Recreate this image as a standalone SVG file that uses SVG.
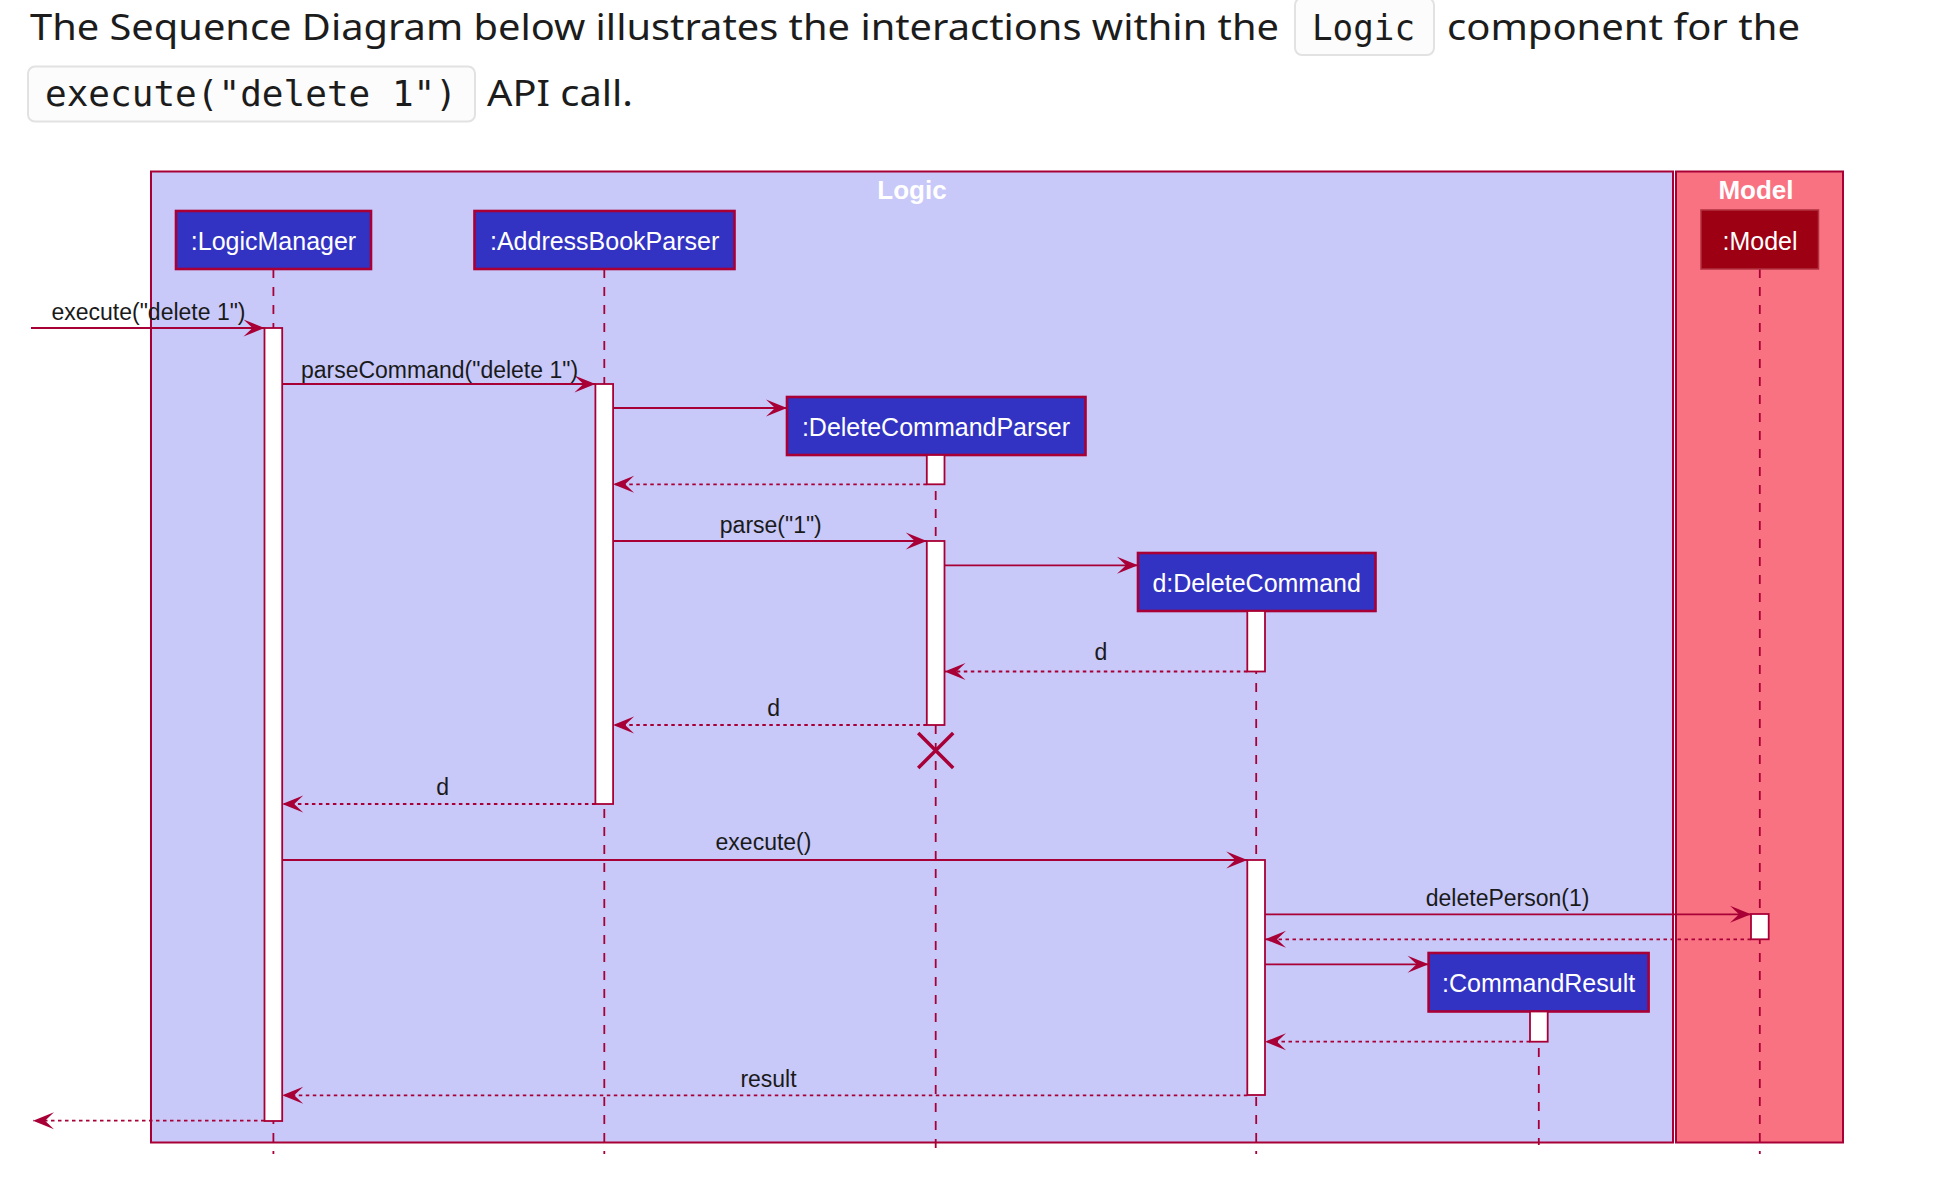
<svg xmlns="http://www.w3.org/2000/svg" width="1953" height="1198" viewBox="0 0 1953 1198">
<defs>
<style>
.body{font-family:"Noto Sans","Open Sans","Liberation Sans",sans-serif;font-size:36px;fill:#1c1c1c}
.code{font-family:"DejaVu Sans Mono","Liberation Mono",monospace;font-size:36px;fill:#1c1c1c}
.codebox{fill:#fcfcfc;stroke:#e2e2e2;stroke-width:2}
.frame{stroke:#A80036;stroke-width:2}
.title{font-family:"Liberation Sans",Arial,sans-serif;font-size:26px;font-weight:bold;fill:#ffffff;text-anchor:middle}
.part{fill:#3333C3;stroke:#A80036;stroke-width:2.6}
.partm{fill:#9D0012;stroke:#B0303F;stroke-width:1.5}
.ptxt{font-family:"Liberation Sans",Arial,sans-serif;font-size:25px;fill:#ffffff;text-anchor:middle}
.life{stroke:#A80036;stroke-width:1.8;stroke-dasharray:9 9;fill:none}
.act{fill:#ffffff;stroke:#A80036;stroke-width:1.8}
.msg{stroke:#A80036;stroke-width:1.8;fill:none;marker-end:url(#arr)}
.ret{stroke:#A80036;stroke-width:1.8;fill:none;stroke-dasharray:3.5 3.5;marker-end:url(#arr)}
.lbl{font-family:"Liberation Sans",Arial,sans-serif;font-size:23px;fill:#1a1a1a;text-anchor:middle}
</style>
<marker id="arr" viewBox="-23 -11 24 22" refX="0" refY="0" markerWidth="24" markerHeight="22" markerUnits="userSpaceOnUse" orient="auto">
<path d="M0,0 L-21,-8.5 L-12,0 L-21,8.5 Z" fill="#A80036"/>
</marker>
</defs>
<rect width="1953" height="1198" fill="#ffffff"/>

<g id="header">
<text class="body" x="30" y="40" textLength="1249" lengthAdjust="spacingAndGlyphs">The Sequence Diagram below illustrates the interactions within the</text>
<rect class="codebox" x="1295" y="-2" width="139" height="57" rx="7"/>
<text class="code" x="1312" y="40" textLength="103" lengthAdjust="spacingAndGlyphs">Logic</text>
<text class="body" x="1447" y="40" textLength="353" lengthAdjust="spacingAndGlyphs">component for the</text>
<rect class="codebox" x="28" y="66.5" width="447" height="55" rx="7"/>
<text class="code" x="45" y="106" textLength="412" lengthAdjust="spacingAndGlyphs">execute("delete 1")</text>
<text class="body" x="487" y="106" textLength="146" lengthAdjust="spacingAndGlyphs">API call.</text>
</g>

<g id="frames">
<g id="frame-logic">
<rect class="frame" x="151" y="171.5" width="1522" height="971" fill="#C8C8F9"/>
<text class="title" x="912" y="199">Logic</text>
</g>
<g id="frame-model">
<rect class="frame" x="1676" y="171.5" width="167" height="971" fill="#F97282"/>
<text class="title" x="1756" y="199">Model</text>
</g>
</g>

<g id="lifelines">
<line class="life" x1="273.4" y1="269" x2="273.4" y2="1154"/>
<line class="life" x1="604.3" y1="269" x2="604.3" y2="1154"/>
<line class="life" x1="935.7" y1="455" x2="935.7" y2="1154"/>
<line class="life" x1="1256.2" y1="611" x2="1256.2" y2="1154"/>
<line class="life" x1="1538.8" y1="1012" x2="1538.8" y2="1145"/>
<line class="life" x1="1759.8" y1="269" x2="1759.8" y2="1154"/>
</g>

<g id="node-logicmanager">
<rect class="part" x="176" y="211" width="195" height="58"/>
<text class="ptxt" x="273.5" y="250">:LogicManager</text>
<rect class="act" x="264.5" y="328" width="17.7" height="793"/>
</g>
<g id="node-addressbookparser">
<rect class="part" x="474.5" y="211" width="260" height="58"/>
<text class="ptxt" x="604.6" y="250">:AddressBookParser</text>
<rect class="act" x="595.4" y="384" width="17.7" height="420"/>
</g>
<g id="node-deletecommandparser">
<rect class="part" x="787" y="397" width="298.5" height="58"/>
<text class="ptxt" x="936" y="436">:DeleteCommandParser</text>
<rect class="act" x="926.8" y="455" width="17.7" height="29.3"/>
<rect class="act" x="926.8" y="541" width="17.7" height="184"/>
<path d="M918.2,733 L953.2,768 M953.2,733 L918.2,768" stroke="#A80036" stroke-width="3.5" fill="none"/>
</g>
<g id="node-deletecommand">
<rect class="part" x="1138" y="553" width="237.5" height="58"/>
<text class="ptxt" x="1256.7" y="592">d:DeleteCommand</text>
<rect class="act" x="1247.3" y="611" width="17.7" height="60.5"/>
<rect class="act" x="1247.3" y="860" width="17.7" height="235"/>
</g>
<g id="node-commandresult">
<rect class="part" x="1428.6" y="953" width="220" height="58.5"/>
<text class="ptxt" x="1538.6" y="992">:CommandResult</text>
<rect class="act" x="1530" y="1011.5" width="17.7" height="30.2"/>
</g>
<g id="node-model">
<rect class="partm" x="1701" y="210" width="117.5" height="59"/>
<text class="ptxt" x="1760" y="250">:Model</text>
<rect class="act" x="1751" y="914" width="17.7" height="25.3"/>
</g>

<g id="connectors">
<line class="msg" x1="31" y1="328" x2="264.5" y2="328"/>
<text class="lbl" x="148.5" y="320">execute("delete 1")</text>
<line class="msg" x1="282.2" y1="384" x2="595.4" y2="384"/>
<text class="lbl" x="439.5" y="378">parseCommand("delete 1")</text>
<line class="msg" x1="613.1" y1="408" x2="787" y2="408"/>
<line class="ret" x1="926.8" y1="484.3" x2="613.1" y2="484.3"/>
<line class="msg" x1="613.1" y1="541" x2="926.8" y2="541"/>
<text class="lbl" x="770.8" y="533">parse("1")</text>
<line class="msg" x1="944.5" y1="565.3" x2="1138" y2="565.3"/>
<line class="ret" x1="1247.3" y1="671.5" x2="944.5" y2="671.5"/>
<text class="lbl" x="1101" y="660">d</text>
<line class="ret" x1="926.8" y1="725" x2="613.1" y2="725"/>
<text class="lbl" x="773.7" y="716">d</text>
<line class="ret" x1="595.4" y1="804" x2="282.2" y2="804"/>
<text class="lbl" x="442.6" y="795">d</text>
<line class="msg" x1="282.2" y1="860" x2="1247.3" y2="860"/>
<text class="lbl" x="763.5" y="850">execute()</text>
<line class="msg" x1="1265" y1="914.3" x2="1751" y2="914.3"/>
<text class="lbl" x="1507.6" y="906">deletePerson(1)</text>
<line class="ret" x1="1751" y1="939.3" x2="1265" y2="939.3"/>
<line class="msg" x1="1265" y1="964.3" x2="1428.6" y2="964.3"/>
<line class="ret" x1="1530" y1="1041.7" x2="1265" y2="1041.7"/>
<line class="ret" x1="1247.3" y1="1095.3" x2="282.2" y2="1095.3"/>
<text class="lbl" x="768.5" y="1087">result</text>
<line class="ret" x1="264.5" y1="1120.7" x2="33" y2="1120.7"/>
</g>
</svg>
